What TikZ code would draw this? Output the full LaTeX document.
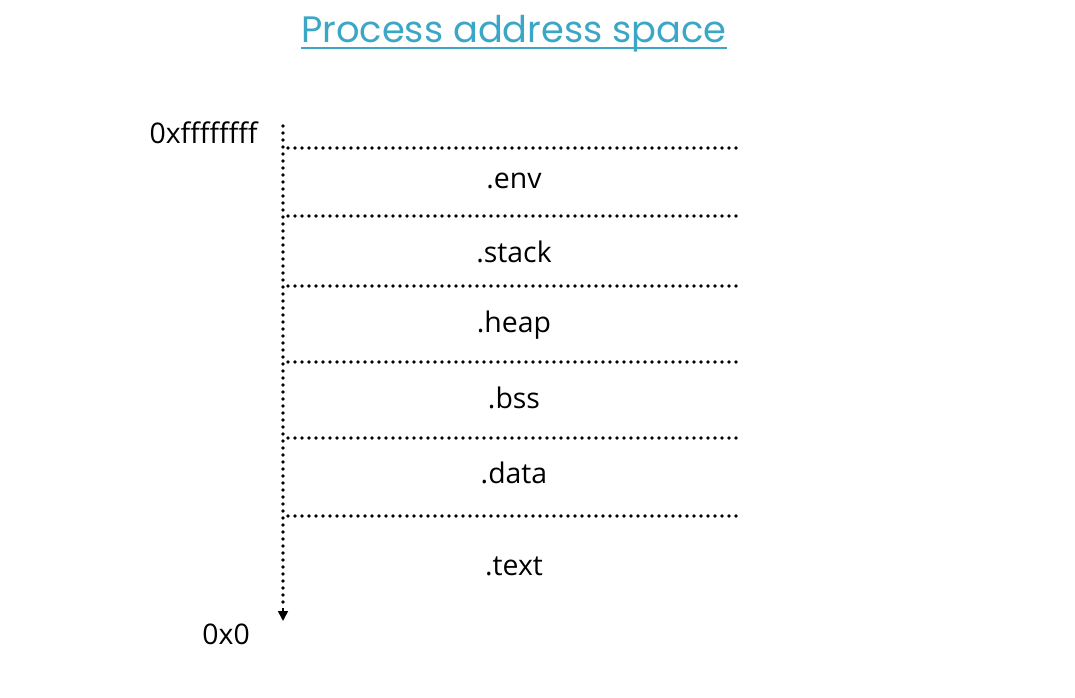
\documentclass[tikz,border=0pt]{standalone}
\usepackage{fontspec}
\setmainfont{Open Sans}
\newfontfamily\titlefont{Poppins}
\usetikzlibrary{arrows.meta}
\definecolor{titleblue}{HTML}{3BA6C6}
\begin{document}
\begin{tikzpicture}[x=0.75pt,y=-0.75pt,
  dotline/.style={line width=2.7pt,line cap=round,dash pattern=on 0pt off 5.25pt},
  seglabel/.style={font=\fontsize{21.3}{24}\selectfont,text=black,inner sep=0pt,anchor=center},
  addrlabel/.style={font=\fontsize{21.3}{24}\selectfont,text=black,inner sep=0pt}]
\useasboundingbox (0,0) rectangle (1075,698);
% title
\node[font=\titlefont\fontsize{27.6}{32}\selectfont,text=titleblue,inner sep=0pt,anchor=base] (title) at (514,43) {Process address space};
\draw[titleblue,line width=1.8pt] (301,48) -- (727,48);
% horizontal rules
\foreach \y/\n in {148/a,216/b,286/c,362/d,438/e,516/f}{
  \coordinate (l\n) at (288,\y);
  \coordinate (r\n) at (738,\y);
  \draw[dotline] (l\n) -- (r\n);
}
% vertical axis
\coordinate (top) at (283,126);
\coordinate (bot) at (283,606);
\draw[dotline] (top) -- (bot);
\coordinate (tip) at (283,621);
\draw[line width=1.2pt,-{Triangle[width=7.5pt,length=7.5pt]}] (283,608) -- (tip);
% labels
\node[seglabel] (env) at (514,181) {.env};
\node[seglabel] (stack) at (514,252) {.stack};
\node[seglabel] (heap) at (514,325) {.heap};
\node[seglabel] (bss) at (514,398) {.bss};
\node[seglabel] (data) at (514,473) {.data};
\node[seglabel] (text) at (514,566) {.text};
\node[addrlabel,anchor=east] (hi) at (258,133) {0xffffffff};
\node[addrlabel,anchor=east] (lo) at (250,634) {0x0};
\end{tikzpicture}
\end{document}
